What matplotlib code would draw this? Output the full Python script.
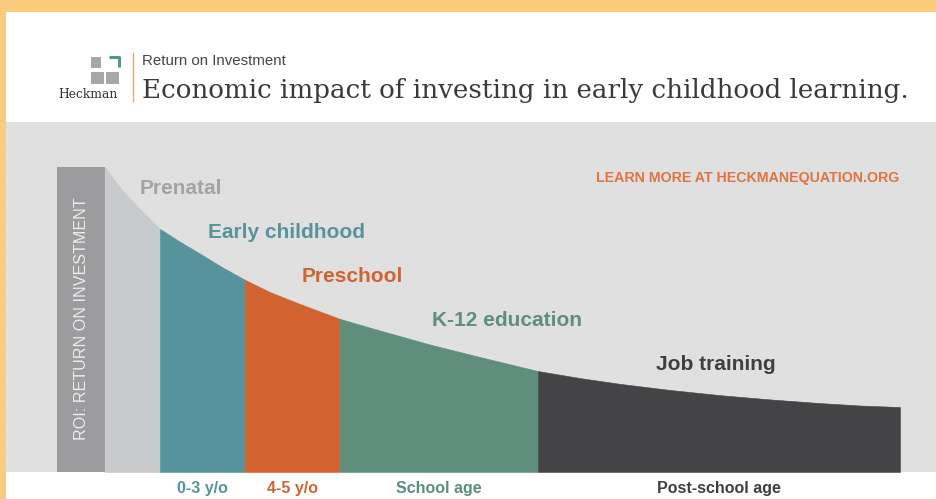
import numpy as np
import matplotlib.pyplot as plt
from matplotlib.patches import Rectangle

plt.rcParams['hatch.linewidth'] = 0.5

# stage boundaries (horizontal position) and labels
stage_edges = [105, 160, 245, 340, 538, 900]
stage_names = ["Prenatal", "Early childhood", "Preschool", "K-12 education", "Job training"]
age_labels = [None, "0-3 y/o", "4-5 y/o", "School age", "Post-school age"]
stage_colors = ["#C8C9CB", "#56939C", "#D26331", "#5F8E7D", "#444446"]
text_colors = ["#A3A3A5", "#56939C", "#D26331", "#5F8E7D", "#3F3F41"]

# ROI curve
curve_x = np.array([105, 112, 120, 130, 140, 150, 160, 180, 200, 222, 245, 270, 300, 340,
                    380, 430, 480, 538, 580, 620, 670, 720, 770, 820, 860, 900])
curve_roi = np.array([10.0, 9.66, 9.34, 8.96, 8.62, 8.29, 7.97, 7.55, 7.16, 6.72, 6.30,
                      5.90, 5.51, 5.02, 4.64, 4.18, 3.77, 3.31, 3.08, 2.89, 2.69, 2.52,
                      2.38, 2.26, 2.18, 2.13])

roi_bar_x = (57, 105)
roi_bar_height = 10.0

fig = plt.figure(figsize=(9.37, 4.99), dpi=100)
fig.patch.set_facecolor("white")

# decoration layer in pixel units
bg = fig.add_axes([0, 0, 1, 1])
bg.set_xlim(0, 937)
bg.set_ylim(499, 0)
bg.axis("off")
bg.add_patch(Rectangle((0, 0), 937, 12, color="#F9CB7A", lw=0))
bg.add_patch(Rectangle((0, 0), 6, 499, color="#F9CB7A", lw=0))

# logo
bg.add_patch(Rectangle((91, 57), 10, 11, color="#A7A7A9", lw=0))
bg.plot([109, 119, 119], [57, 57, 67], color="#4F9A80", lw=2.2, solid_capstyle="butt")
bg.add_patch(Rectangle((91, 72), 13, 12, color="#A7A7A9", lw=0))
bg.add_patch(Rectangle((106, 72), 13, 12, color="#A7A7A9", lw=0))
bg.text(88, 94, "Heckman", family="DejaVu Serif", fontsize=8.8, color="#333333",
        ha="center", va="center")
bg.plot([133, 133], [53, 101], color="#E8A27E", lw=1)
bg.text(142, 61, "Return on Investment", family="Liberation Sans",
        fontsize=10.8, color="#444444", ha="left", va="center")
bg.text(142, 90, "Economic impact of investing in early childhood learning.",
        family="DejaVu Serif", fontsize=18.8, color="#3A3A3A", ha="left", va="center")

# chart area
ax = fig.add_axes([6 / 937, (499 - 472) / 499, 931 / 937, 350 / 499])
ax.set_xlim(6, 937)
ax.set_ylim(0, (472 - 122) / 30.5)
ax.set_facecolor("#E5E5E5")
for s in ax.spines.values():
    s.set_visible(False)
ax.set_xticks([])
ax.set_yticks([])
ax.add_patch(Rectangle((6, 0), 931, 12, fill=False, hatch="/" * 18,
                       edgecolor="#DCDCDC", lw=0))

ax.bar((roi_bar_x[0] + roi_bar_x[1]) / 2, roi_bar_height, width=roi_bar_x[1] - roi_bar_x[0],
       color="#9C9C9E", lw=0)
ax.text((roi_bar_x[0] + roi_bar_x[1]) / 2 + 1, 5.03, "ROI: RETURN ON INVESTMENT", rotation=90,
        family="Liberation Sans", fontsize=11.6, color="#EDEDED", ha="center", va="center")

for i in range(len(stage_names)):
    a, b = stage_edges[i], stage_edges[i + 1]
    m = (curve_x >= a) & (curve_x <= b)
    ax.fill_between(curve_x[m], 0, curve_roi[m], color=stage_colors[i], lw=0.4,
                    edgecolor=stage_colors[i])

# stage labels
label_left = [140, 208, 302, 432, 656]
label_y = [188, 233, 277, 321, 365]
for i, name in enumerate(stage_names):
    ax.text(label_left[i], (472 - label_y[i]) / 30.5, name, family="Liberation Sans",
            weight="bold", fontsize=15, color=text_colors[i], ha="left", va="center")

# age labels under the stages
for i, lab in enumerate(age_labels):
    if lab is None:
        continue
    xc = (stage_edges[i] + stage_edges[i + 1]) / 2
    ax.text(xc, (472 - 489) / 30.5, lab, family="Liberation Sans", weight="bold",
            fontsize=11.5, color=text_colors[i], ha="center", va="center", clip_on=False)

ax.text(899, (472 - 178) / 30.5, "LEARN MORE AT HECKMANEQUATION.ORG", family="Liberation Sans",
        weight="bold", fontsize=10.2, color="#E0733F", ha="right", va="center")

fig.savefig("out.png", dpi=100, facecolor="white")
